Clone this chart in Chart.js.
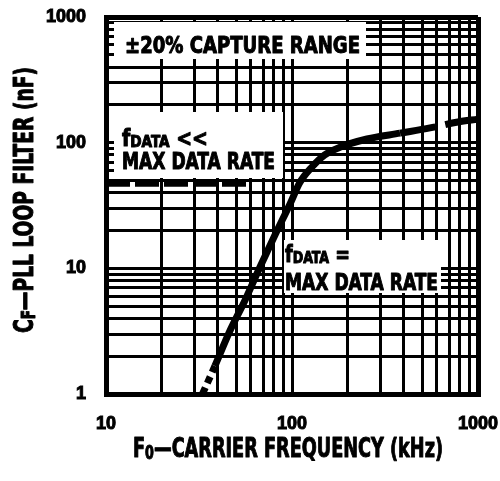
<!DOCTYPE html>
<html>
<head>
<meta charset="utf-8">
<script src="https://cdn.jsdelivr.net/npm/chart.js@4.4.1/dist/chart.umd.min.js"></script>
<style>
  html, body { margin: 0; padding: 0; background: #fff; }
  canvas { display: block; }
</style>
</head>
<body>
<canvas id="c" width="500" height="481"></canvas>
<script>
// Loop filter capacitor vs. carrier frequency (±20% capture range, f_DATA = max data rate)
const carrierKHz   = [33, 38.5, 46, 56, 67, 81, 98, 110, 128, 150, 181, 253, 381, 552, 780, 1000];
const loopFilterNF = [1.0, 1.67, 3.1, 5.6, 10.1, 18.4, 33, 48, 64, 80, 92, 107, 119, 131, 146, 154];

// Asymptote for f_DATA << max data rate
const lowRateKHz = [10, 60];
const lowRateNF  = [47, 47];

// Log grid: mantissas per decade, decade starts, labelled ticks
const mantissas   = [1, 2, 3, 4, 5, 6, 7, 8, 9];
const xDecades    = [10, 100];
const yDecades    = [1, 10, 100];
const xTickLabels = [10, 100, 1000];
const yTickLabels = [1, 10, 100, 1000];

const gridFrom = (decades) =>
  decades.flatMap(d => mantissas.map(m => m * d)).concat([decades[decades.length - 1] * 10]);
const xGrid = gridFrom(xDecades);
const yGrid = gridFrom(yDecades);

const FACE = '"Liberation Sans Narrow", "DejaVu Sans Condensed", "Liberation Sans", sans-serif';
const runFont = (size) => `bold ${size}px ${FACE}`;

// Draw a row of heavy text runs (with optional subscripts) squeezed to a given width
function drawRuns(ctx, runs, size, width) {
  let total = 0;
  const parts = runs.map(r => {
    const s = r.sub ? size * 0.72 : size;
    ctx.font = runFont(s);
    const w = ctx.measureText(r.t).width;
    total += w;
    return { r, s, w };
  });
  ctx.save();
  ctx.scale(width / total, 1);
  ctx.strokeStyle = '#000';
  ctx.lineWidth = 1;
  ctx.lineJoin = 'round';
  let x = 0;
  parts.forEach(p => {
    ctx.font = runFont(p.s);
    const dy = p.r.sub ? size * 0.06 : 0;
    ctx.fillText(p.r.t, x, dy);
    ctx.strokeText(p.r.t, x, dy);
    x += p.w;
  });
  ctx.restore();
}

// White label panels and their text, offsets from the plot area's top-left corner
const panels = [
  { dx0: 8,   dx1: 260, dy0: 5,   dy1: 42 },
  { dx0: 8,   dx1: 177, dy0: 95,  dy1: 161 },
  { dx0: 178, dx1: 335, dy0: 223, dy1: 276 }
];
const panelText = [
  { dx: 19,  dy: 36,  w: 235, size: 23, runs: [{ t: '±20% CAPTURE RANGE' }] },
  { dx: 16,  dy: 129, w: 86,  size: 23, runs: [{ t: 'f' }, { t: 'DATA', sub: true }, { t: ' <<' }] },
  { dx: 16,  dy: 152, w: 153, size: 23, runs: [{ t: 'MAX DATA RATE' }] },
  { dx: 179, dy: 245, w: 65,  size: 23, runs: [{ t: 'f' }, { t: 'DATA', sub: true }, { t: ' =' }] },
  { dx: 179, dy: 273, w: 153, size: 23, runs: [{ t: 'MAX DATA RATE' }] }
];

const labelPanels = {
  id: 'labelPanels',
  beforeDatasetsDraw(chart) {
    const { ctx, chartArea: a } = chart;
    ctx.save();
    ctx.fillStyle = '#fff';
    panels.forEach(p => ctx.fillRect(a.left + p.dx0, a.top + p.dy0, p.dx1 - p.dx0, p.dy1 - p.dy0));
    ctx.fillStyle = '#000';
    ctx.textBaseline = 'alphabetic';
    ctx.textAlign = 'left';
    panelText.forEach(t => {
      ctx.save();
      ctx.translate(a.left + t.dx, a.top + t.dy);
      drawRuns(ctx, t.runs, t.size, t.w);
      ctx.restore();
    });
    ctx.restore();
  },
  afterDraw(chart) {
    const { ctx } = chart;
    ctx.save();
    ctx.fillStyle = '#000';
    ctx.textBaseline = 'alphabetic';
    ctx.textAlign = 'left';
    // x-axis title
    ctx.save();
    ctx.translate(133, 457);
    drawRuns(ctx, [{ t: 'F' }, { t: '0', sub: true }, { t: '—CARRIER FREQUENCY (kHz)' }], 27, 310);
    ctx.restore();
    // y-axis title
    ctx.save();
    ctx.translate(33, 333);
    ctx.rotate(-Math.PI / 2);
    drawRuns(ctx, [{ t: 'C' }, { t: 'F', sub: true }, { t: '—PLL LOOP FILTER (nF)' }], 27, 266);
    ctx.restore();
    ctx.restore();
  }
};

const edgeWidth = (min, max) => (c) =>
  (c.tick && (c.tick.value === min || c.tick.value === max)) ? 5 : 3;

const tickFont = { family: '"Liberation Sans", sans-serif', size: 18, weight: 'bold' };

new Chart(document.getElementById('c'), {
  type: 'line',
  data: {
    datasets: [
      {
        data: carrierKHz.map((x, i) => ({ x, y: loopFilterNF[i] })),
        borderColor: '#000',
        borderWidth: 7,
        pointRadius: 0,
        cubicInterpolationMode: 'monotone',
        borderCapStyle: 'butt',
        segment: {
          borderDash: (c) => {
            if (c.p0.parsed.y < 1.6) return [7, 5];
            if (c.p0.parsed.x >= 380) return [36, 10];
            return undefined;
          }
        }
      },
      {
        data: lowRateKHz.map((x, i) => ({ x, y: lowRateNF[i] })),
        borderColor: '#000',
        borderWidth: 6,
        borderDash: [24, 5],
        pointRadius: 0
      }
    ]
  },
  options: {
    responsive: false,
    animation: false,
    devicePixelRatio: 1,
    layout: { padding: 0 },
    plugins: { legend: { display: false }, tooltip: { enabled: false } },
    scales: {
      x: {
        type: 'logarithmic',
        min: 10,
        max: 1000,
        afterBuildTicks: (s) => { s.ticks = xGrid.map(v => ({ value: v })); },
        afterFit: (s) => { s.height = 87; s.paddingLeft = 0; s.paddingRight = 22; },
        ticks: {
          autoSkip: false,
          maxRotation: 0,
          padding: 19,
          color: '#000',
          textStrokeColor: '#000',
          textStrokeWidth: 1,
          font: tickFont,
          callback: (v) => xTickLabels.includes(v) ? String(v) : ''
        },
        grid: { color: '#000', lineWidth: edgeWidth(10, 1000), drawTicks: false },
        border: { color: '#000', width: 5 }
      },
      y: {
        type: 'logarithmic',
        min: 1,
        max: 1000,
        afterBuildTicks: (s) => { s.ticks = yGrid.map(v => ({ value: v })); },
        afterFit: (s) => { s.width = 106; s.paddingTop = 17; s.paddingBottom = 0; },
        ticks: {
          autoSkip: false,
          padding: 20,
          color: '#000',
          textStrokeColor: '#000',
          textStrokeWidth: 1,
          font: tickFont,
          callback: (v) => yTickLabels.includes(v) ? String(v) : ''
        },
        grid: { color: '#000', lineWidth: edgeWidth(1, 1000), drawTicks: false },
        border: { color: '#000', width: 5 }
      }
    }
  },
  plugins: [labelPanels]
});
</script>
</body>
</html>
